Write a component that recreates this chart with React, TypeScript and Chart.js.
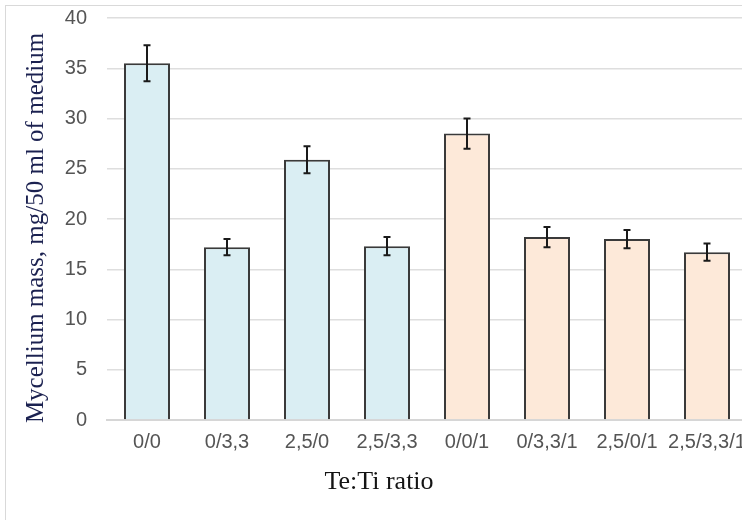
import React, { useEffect, useRef } from "react";
import { Chart, registerables } from "chart.js";

Chart.register(...registerables);

const categories = ["0/0", "0/3,3", "2,5/0", "2,5/3,3", "0/0/1", "0/3,3/1", "2,5/0/1", "2,5/3,3/1"];
const massValues = [35.5, 17.2, 25.9, 17.3, 28.5, 18.2, 18.0, 16.7];
const errorValues = [1.8, 0.8, 1.35, 0.9, 1.5, 1.0, 0.9, 0.85];
const groupIndex = [0, 0, 0, 0, 1, 1, 1, 1];
const groupColors = ["#DAEEF3", "#FDE9D9"];
const yTitle = "Mycellium mass, mg/50 ml of medium";
const xTitle = "Te:Ti ratio";

const errorBarPlugin = {
  id: "errorBars",
  afterDatasetsDraw(chart: any) {
    const ctx = chart.ctx;
    const meta = chart.getDatasetMeta(0);
    const ys = chart.scales.y;
    ctx.save();
    ctx.strokeStyle = "#1a1a1a";
    ctx.lineWidth = 2;
    meta.data.forEach((bar: any, i: number) => {
      const v = massValues[i];
      const e = errorValues[i];
      const x = bar.x;
      const t = ys.getPixelForValue(v + e);
      const b = ys.getPixelForValue(v - e);
      ctx.beginPath();
      ctx.moveTo(x, t);
      ctx.lineTo(x, b);
      ctx.moveTo(x - 3.5, t);
      ctx.lineTo(x + 3.5, t);
      ctx.moveTo(x - 3.5, b);
      ctx.lineTo(x + 3.5, b);
      ctx.stroke();
    });
    ctx.restore();
  },
};

const titlePlugin = {
  id: "customTitles",
  afterDraw(chart: any) {
    const ctx = chart.ctx;
    ctx.save();
    ctx.fillStyle = "#1b2150";
    ctx.font = "25px 'Liberation Serif', 'Times New Roman', serif";
    ctx.textAlign = "center";
    ctx.textBaseline = "alphabetic";
    ctx.translate(43, 228);
    ctx.rotate(-Math.PI / 2);
    ctx.fillText(yTitle, 0, 0);
    ctx.restore();

    ctx.save();
    ctx.fillStyle = "#141414";
    ctx.font = "26px 'Liberation Serif', 'Times New Roman', serif";
    ctx.textAlign = "center";
    ctx.textBaseline = "alphabetic";
    ctx.fillText(xTitle, 379, 489);
    ctx.restore();
  },
};

export default function App() {
  const ref = useRef<HTMLCanvasElement | null>(null);
  useEffect(() => {
    if (!ref.current) return;
    const chart = new Chart(ref.current, {
      type: "bar",
      data: {
        labels: categories,
        datasets: [
          {
            data: massValues,
            backgroundColor: groupIndex.map((g) => groupColors[g]),
            borderColor: "#3a3a3a",
            borderWidth: 2,
            barPercentage: 0.575,
            categoryPercentage: 1,
          },
        ],
      },
      options: {
        responsive: false,
        animation: false,
        devicePixelRatio: 1,
        layout: { padding: { top: 18, right: 13, left: 0, bottom: 0 } },
        plugins: { legend: { display: false }, tooltip: { enabled: false }, title: { display: false } },
        scales: {
          x: {
            grid: { display: false },
            border: { display: true, color: "#d6d6d6", width: 2 },
            ticks: {
              color: "#555555",
              font: { family: "'Liberation Sans', Arial, sans-serif", size: 20 },
              padding: 2,
              maxRotation: 0,
              autoSkip: false,
            },
            afterFit(scale: any) {
              scale.height = 100;
              scale.paddingLeft = 0;
              scale.paddingRight = 0;
            },
          },
          y: {
            min: 0,
            max: 40,
            ticks: {
              stepSize: 5,
              color: "#555555",
              font: { family: "'Liberation Sans', Arial, sans-serif", size: 20 },
              padding: 20,
            },
            grid: { color: "#dedede", lineWidth: 1.5, drawTicks: false },
            border: { display: false },
            afterFit(scale: any) {
              scale.width = 107;
              scale.paddingTop = 0;
              scale.paddingBottom = 0;
            },
          },
        },
      },
      plugins: [errorBarPlugin, titlePlugin],
    });
    return () => chart.destroy();
  }, []);

  return (
    <div style={{ position: "fixed", left: 0, top: 0, width: 742, height: 520, overflow: "hidden", background: "#fff" }}>
      <div
        style={{
          position: "absolute",
          left: 5,
          top: 5,
          width: 800,
          height: 600,
          border: "1px solid #d9d9d9",
          boxSizing: "border-box",
        }}
      />
      <canvas ref={ref} width={760} height={520} style={{ position: "absolute", left: 0, top: 0, width: 760, height: 520 }} />
    </div>
  );
}
